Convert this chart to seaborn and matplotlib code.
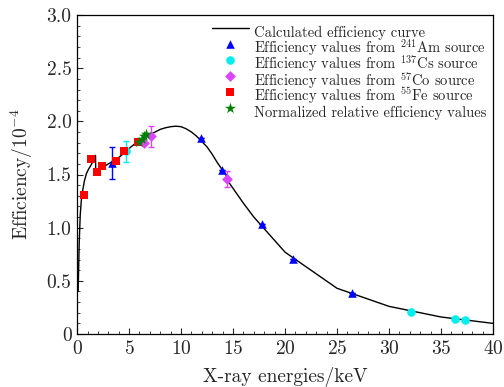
import numpy as np
import pandas as pd
import matplotlib
matplotlib.use("Agg")
import matplotlib.pyplot as plt
import seaborn as sns

# Calculated efficiency curve (energy in keV, efficiency in 1e-4)
curve_e = [0.1, 0.2, 0.3, 0.4, 0.5, 0.7, 0.9, 1.1, 1.4, 1.6, 1.77, 1.79, 2.2, 2.6,
           3.0, 3.6, 4.0, 4.5, 5.0, 5.5, 6.0, 6.5, 7.0, 7.5, 8.0, 8.5, 9.0, 9.5,
           10.0, 10.5, 11.0, 11.5, 12.0, 12.5, 13.0, 13.5, 14.0, 14.3, 14.5, 15.0,
           15.5, 16.0, 17.0, 18.0, 19.0, 20.0, 25.0, 30.0, 35.0, 40.0]
curve_eff = [0.40, 0.85, 1.12, 1.25, 1.33, 1.44, 1.51, 1.55, 1.60, 1.64, 1.68, 1.53,
             1.55, 1.575, 1.60, 1.635, 1.66, 1.70, 1.745, 1.785, 1.82, 1.85, 1.875,
             1.90, 1.925, 1.94, 1.95, 1.955, 1.95, 1.93, 1.90, 1.86, 1.81, 1.76,
             1.69, 1.61, 1.54, 1.50, 1.44, 1.37, 1.30, 1.23, 1.10, 0.99, 0.88,
             0.77, 0.43, 0.26, 0.16, 0.10]

# Measured efficiencies from calibration sources
am_e = [3.34, 11.9, 13.9, 17.8, 20.8, 26.4]
am_eff = [1.61, 1.84, 1.54, 1.03, 0.71, 0.39]
am_err = [0.15, 0.0, 0.0, 0.0, 0.0, 0.0]

cs_e = [4.75, 32.1, 36.4, 37.3]
cs_eff = [1.72, 0.21, 0.14, 0.13]
cs_err = [0.10, 0.0, 0.0, 0.0]

co_e = [6.40, 7.06, 14.46]
co_eff = [1.80, 1.86, 1.46]
co_err = [0.0, 0.10, 0.075]

fe_e = [0.68, 1.29, 1.87, 2.44, 3.72, 4.55, 5.90]
fe_eff = [1.31, 1.65, 1.52, 1.58, 1.63, 1.72, 1.81]

norm_e = [5.95, 6.2, 6.45, 6.65]
norm_eff = [1.81, 1.83, 1.86, 1.88]

sns.set_style("ticks")
plt.rcParams["font.family"] = ["cmr10"]
plt.rcParams["mathtext.fontset"] = "cm"
plt.rcParams["axes.formatter.use_mathtext"] = True
plt.rcParams["xtick.direction"] = "in"
plt.rcParams["ytick.direction"] = "in"

fig = plt.figure(figsize=(5.04, 3.87), dpi=100)
ax = fig.add_axes([0.153, 0.137, 0.825, 0.824])

sns.lineplot(x=curve_e, y=curve_eff, ax=ax, color="black", lw=1.0,
             estimator=None, sort=False, label="Calculated efficiency curve")

ms = 38
ax.errorbar(am_e, am_eff, yerr=am_err, fmt="none", ecolor="#0000ff", elinewidth=1.0, capsize=2)
ax.errorbar(cs_e, cs_eff, yerr=cs_err, fmt="none", ecolor="#00eeee", elinewidth=1.0, capsize=2)
ax.errorbar(co_e, co_eff, yerr=co_err, fmt="none", ecolor="#dd44ff", elinewidth=1.0, capsize=2)

sns.scatterplot(x=am_e, y=am_eff, ax=ax, marker="^", color="#0000ff", s=ms, linewidth=0,
                label="Efficiency values from $^{241}$Am source", zorder=3)
sns.scatterplot(x=cs_e, y=cs_eff, ax=ax, marker="o", color="#00eeee", s=ms, linewidth=0,
                label="Efficiency values from $^{137}$Cs source", zorder=3)
sns.scatterplot(x=co_e, y=co_eff, ax=ax, marker="D", color="#dd44ff", s=ms * 0.8, linewidth=0,
                label="Efficiency values from $^{57}$Co source", zorder=3)
sns.scatterplot(x=fe_e, y=fe_eff, ax=ax, marker="s", color="#ff0000", s=ms, linewidth=0,
                label="Efficiency values from $^{55}$Fe source", zorder=3)
sns.scatterplot(x=norm_e, y=norm_eff, ax=ax, marker="*", color="#008000", s=ms * 1.8, linewidth=0,
                label="Normalized relative efficiency values", zorder=4)

ax.set_xlim(0, 40)
ax.set_ylim(0, 3.0)
ax.set_xticks(np.arange(0, 41, 5))
ax.set_xticks(np.arange(0, 41, 1), minor=True)
ax.set_yticks(np.arange(0, 3.01, 0.5))
ax.set_yticks(np.arange(0, 3.01, 0.1), minor=True)
ax.set_yticklabels(["0"] + [f"{v:.1f}" for v in np.arange(0.5, 3.01, 0.5)])
ax.tick_params(which="major", length=4, width=0.8, labelsize=14, pad=4)
ax.tick_params(which="minor", length=2, width=0.6)
for s in ax.spines.values():
    s.set_linewidth(0.9)
    s.set_color("black")

ax.set_xlabel("X-ray energies/keV", fontsize=14, labelpad=7)
ax.set_ylabel("Efficiency/$10^{-4}$", fontsize=14, labelpad=8)

# tall handle boxes give every legend row the same height
ax.legend(loc="upper left", frameon=False, fontsize=10.5, handlelength=2.5,
          handleheight=2.3, handletextpad=0.35, labelspacing=-0.64,
          borderpad=0, borderaxespad=0, bbox_to_anchor=(0.325, 0.985))

fig.savefig("out.png", dpi=100)
